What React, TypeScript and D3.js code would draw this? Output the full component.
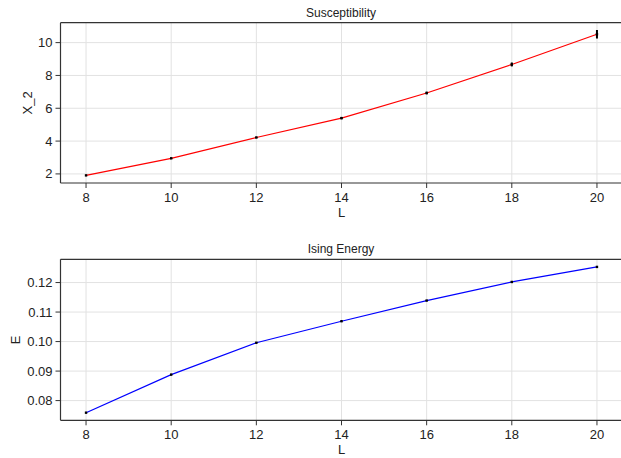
import React from 'react';
import * as d3 from 'd3';

const sizes = [8, 10, 12, 14, 16, 18, 20];
const chiValues = [1.91, 2.95, 4.22, 5.4, 6.93, 8.67, 10.51];
const chiErrors = [0.02, 0.03, 0.04, 0.07, 0.08, 0.12, 0.26];
const energyValues = [0.0759, 0.0888, 0.0996, 0.1069, 0.1139, 0.1202, 0.1253];
const energyErrors = [0.0001, 0.0001, 0.0001, 0.0001, 0.0001, 0.0001, 0.0001];
const xTicks = [8, 10, 12, 14, 16, 18, 20];
const chiTicks = [2, 4, 6, 8, 10];
const energyTicks = [0.08, 0.09, 0.1, 0.11, 0.12];

const W = 621, H = 458;
const font = '"Liberation Sans", Arial, Helvetica, sans-serif';

const padded = (lo, hi) => {
  const p = (hi - lo) * 0.05;
  return [lo - p, hi + p];
};

const Panel = ({ top, bottom, title, ylabel, ylabelX, values, errors, ticks, fmt, color }) => {
  const left = 60.5;
  const x = d3.scaleLinear().domain(padded(8, 20)).range([left, 622.5]);
  const lo = d3.min(values.map((v, i) => v - errors[i]));
  const hi = d3.max(values.map((v, i) => v + errors[i]));
  const y = d3.scaleLinear().domain(padded(lo, hi)).range([bottom, top]);
  const line = d3.line((d, i) => x(sizes[i]), (d) => y(d));
  const axisColor = '#333';
  return (
    <g>
      {xTicks.map((t) => (
        <line key={`gx${t}`} x1={x(t)} x2={x(t)} y1={top} y2={bottom} stroke="#e2e2e2" strokeWidth={1} />
      ))}
      {ticks.map((t) => (
        <line key={`gy${t}`} x1={left} x2={W} y1={y(t)} y2={y(t)} stroke="#e2e2e2" strokeWidth={1} />
      ))}
      <line x1={left} x2={W} y1={top} y2={top} stroke={axisColor} strokeWidth={1.2} />
      <line x1={left} x2={W} y1={bottom} y2={bottom} stroke={axisColor} strokeWidth={1.2} />
      <line x1={left} x2={left} y1={top} y2={bottom} stroke={axisColor} strokeWidth={1.2} />
      {xTicks.map((t) => (
        <g key={`tx${t}`}>
          <line x1={x(t)} x2={x(t)} y1={bottom} y2={bottom + 5} stroke={axisColor} />
          <text x={x(t)} y={bottom + 19} textAnchor="middle" fontSize={13} fill="#222">{t}</text>
        </g>
      ))}
      {ticks.map((t) => (
        <g key={`ty${t}`}>
          <line x1={left - 5} x2={left} y1={y(t)} y2={y(t)} stroke={axisColor} />
          <text x={left - 8} y={y(t) + 4.5} textAnchor="end" fontSize={13} fill="#222">{fmt(t)}</text>
        </g>
      ))}
      <text x={341} y={top - 6} textAnchor="middle" fontSize={12} fill="#222">{title}</text>
      <text x={x(14)} y={bottom + 34} textAnchor="middle" fontSize={13} fill="#222">L</text>
      <text transform={`translate(${ylabelX},${(top + bottom) / 2}) rotate(-90)`} textAnchor="middle" fontSize={13} fill="#222">{ylabel}</text>
      <path d={line(values)} fill="none" stroke={color} strokeWidth={1.2} />
      {values.map((v, i) => (
        <g key={`p${i}`}>
          <line x1={x(sizes[i])} x2={x(sizes[i])} y1={y(v - errors[i])} y2={y(v + errors[i])} stroke="#000" strokeWidth={2} />
          <rect x={x(sizes[i]) - 1.2} y={y(v) - 1.2} width={2.4} height={2.4} fill="#000" />
        </g>
      ))}
    </g>
  );
};

export default function App() {
  return (
    <svg width={W} height={H} style={{ position: 'absolute', left: 0, top: 0, background: '#fff', fontFamily: font }}>
      <Panel top={22.7} bottom={183} title="Susceptibility" ylabel="X_2" ylabelX={32}
        values={chiValues} errors={chiErrors} ticks={chiTicks} fmt={d3.format('d')} color="#ff0000" />
      <Panel top={259.3} bottom={420.3} title="Ising Energy" ylabel="E" ylabelX={20}
        values={energyValues} errors={energyErrors} ticks={energyTicks} fmt={d3.format('.2f')} color="#0000ff" />
    </svg>
  );
}
